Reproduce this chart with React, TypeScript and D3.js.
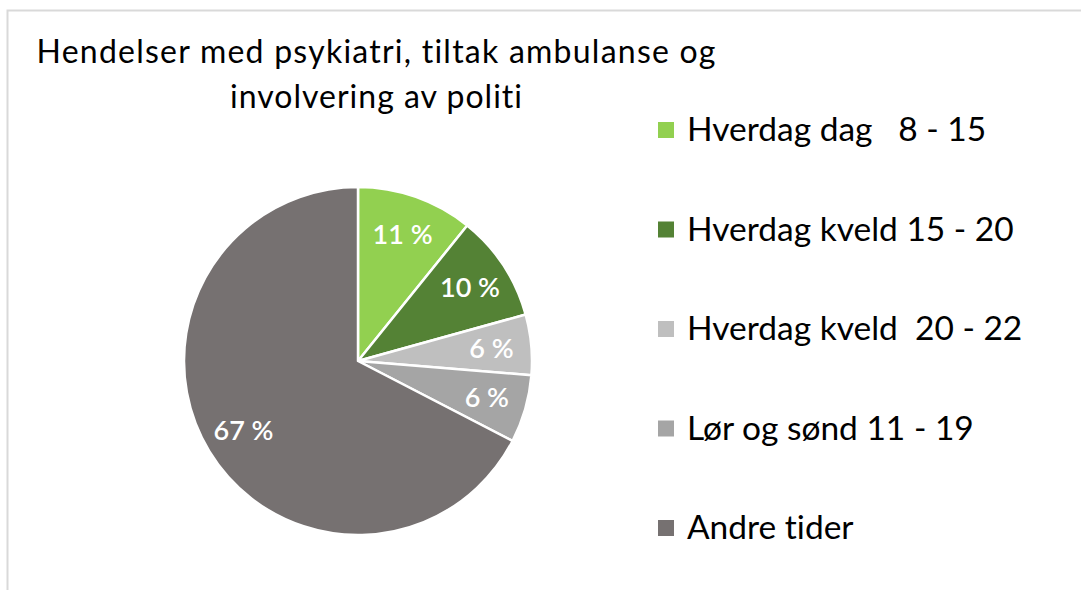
import React from "react";
import * as d3 from "d3";

const categories = [
  "Hverdag dag   8 - 15",
  "Hverdag kveld 15 - 20",
  "Hverdag kveld  20 - 22",
  "Lør og sønd 11 - 19",
  "Andre tider",
];
const values = [10.8, 9.9, 5.6, 6.3, 67.4];
const colors = ["#92D050", "#548235", "#BFBFBF", "#A5A5A5", "#767171"];
const titleLines = ["Hendelser med psykiatri, tiltak ambulanse og", "involvering av politi"];

const W = 1081;
const H = 590;
const FONT = "Lato, 'Open Sans', sans-serif";

export default function App() {
  const cx = 358;
  const cy = 361;
  const r = 174;
  const pie = d3.pie<number>().sort(null).value((d) => d);
  const arcs = pie(values);
  const arcGen = d3.arc<d3.PieArcDatum<number>>().innerRadius(0).outerRadius(r);
  const labelArc = d3.arc<d3.PieArcDatum<number>>().innerRadius(134).outerRadius(134);
  const legendY = d3.scalePoint<number>().domain(d3.range(categories.length)).range([130, 528]);
  const titleWidths = [679, 292];

  return (
    <svg width={W} height={H}
      style={{ position: "absolute", left: 0, top: 0, display: "block", fontVariantLigatures: "none", fontFeatureSettings: "'liga' 0, 'clig' 0" }}>
      <rect x={0} y={0} width={W} height={H} fill="#fff" />
      <path d={`M7.5,${H} V10.5 H${W}`} fill="none" stroke="#D9D9D9" strokeWidth={2} />
      <g fontFamily={FONT} fill="#000" textAnchor="middle" fontSize={32}>
        {titleLines.map((t, i) => (
          <text key={i} x={376} y={63 + i * 45} textLength={titleWidths[i]} lengthAdjust="spacing">{t}</text>
        ))}
      </g>
      <g transform={`translate(${cx},${cy})`}>
        {arcs.map((a, i) => (
          <path key={i} d={arcGen(a) || ""} fill={colors[i]} stroke="#fff" strokeWidth={2.5} strokeLinejoin="round" />
        ))}
        {arcs.map((a, i) => {
          const [lx, ly] = labelArc.centroid(a);
          return (
            <text key={i} x={lx} y={ly} dy="0.35em" textAnchor="middle" fill="#fff"
              fontFamily={FONT} fontSize={27} fontWeight={600}>
              {`${Math.round(values[i])} %`}
            </text>
          );
        })}
      </g>
      <g fontFamily={FONT} fontSize={33.5}>
        {categories.map((c, i) => {
          const y = legendY(i) as number;
          return (
            <g key={i}>
              <rect x={658} y={y - 8} width={16} height={16} fill={colors[i]} />
              <text x={687} y={y + 11} fill="#000" style={{ whiteSpace: "pre" }} xmlSpace="preserve">{c}</text>
            </g>
          );
        })}
      </g>
    </svg>
  );
}
